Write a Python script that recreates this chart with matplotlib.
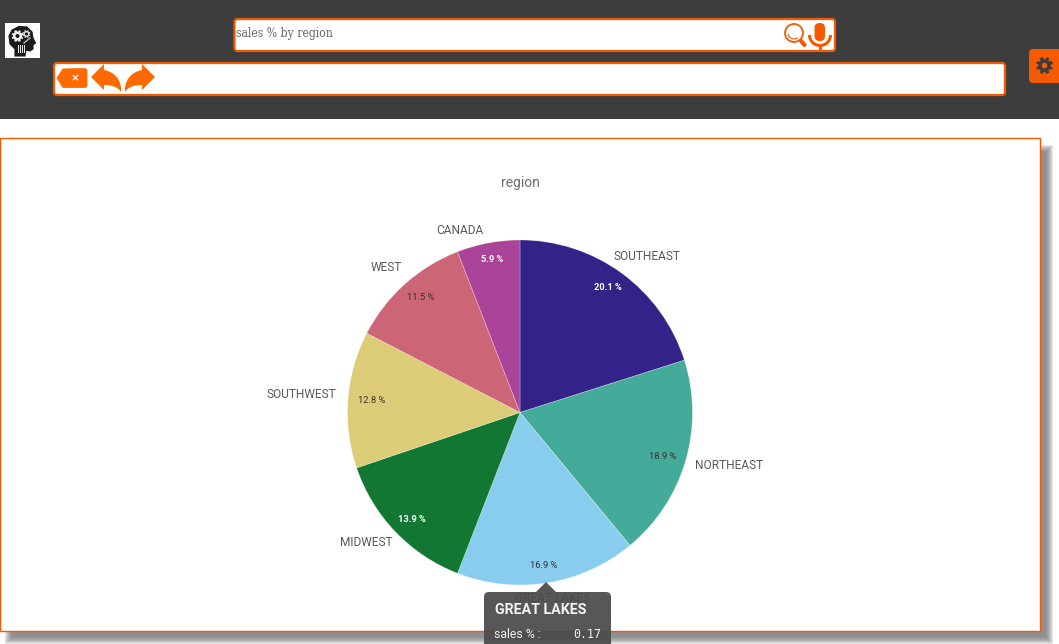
import numpy as np
import matplotlib
matplotlib.use("Agg")
import matplotlib.pyplot as plt
from matplotlib.patches import Rectangle, FancyBboxPatch, Circle, Polygon, PathPatch, Arc
from matplotlib.path import Path

regions = ["SOUTHEAST", "NORTHEAST", "GREAT LAKES", "MIDWEST", "SOUTHWEST", "WEST", "CANADA"]
sales_pct = [20.1, 18.9, 16.9, 13.9, 12.8, 11.5, 5.9]
slice_colors = ["#332288", "#44AA99", "#88CCEE", "#117733", "#DDCC77", "#CC6677", "#AA4499"]
pct_colors = ["white", "#333333", "#333333", "white", "#333333", "#333333", "white"]
label_xy = [(647, 256), (729, 465), (553, 598), (366, 542), (301, 394), (386, 267), (460, 230)]

ORANGE = "#F65A00"
ARROW = "#FF6A00"
BAR = "#3D3D3D"
PIE_X = 520

fig = plt.figure(figsize=(10.59, 6.44), dpi=100, facecolor="white")
ax = fig.add_axes([0, 0, 1, 1])
# one data unit is one pixel, y grows downwards
ax.set_xlim(0, 1059)
ax.set_ylim(644, 0)
ax.axis("off")


def rbox(x0, y0, x1, y1, r=3, **kw):
    p = FancyBboxPatch((x0 + r, y0 + r), x1 - x0 - 2 * r, y1 - y0 - 2 * r,
                       boxstyle=f"round,pad={r},rounding_size={r}", **kw)
    ax.add_patch(p)
    return p


def gear(cx, cy, r_out, r_in, r_hole, color, hole):
    ang = np.linspace(0, 2 * np.pi, 97)[:-1] + np.pi / 8
    tooth = np.where(((ang - np.pi / 8) / (2 * np.pi) * 8 + 0.25) % 1 < 0.5, r_out, r_in)
    ax.add_patch(Polygon(np.c_[cx + tooth * np.cos(ang), cy + tooth * np.sin(ang)],
                         closed=True, fc=color, ec="none", zorder=5))
    ax.add_patch(Circle((cx, cy), r_hole, fc=hole, ec="none", zorder=6))


def arrow(xs):
    # curved undo/redo arrow, xs maps the left facing shape onto the page
    verts = [(91, 77), (104, 64), (104, 70), (116, 72), (122, 82), (121, 92),
             (118, 87), (112, 85), (104, 85), (104, 90), (91, 77)]
    codes = [Path.MOVETO, Path.LINETO, Path.LINETO, Path.CURVE4, Path.CURVE4, Path.CURVE4,
             Path.CURVE4, Path.CURVE4, Path.CURVE4, Path.LINETO, Path.CLOSEPOLY]
    verts = [(xs(x), y) for x, y in verts]
    ax.add_patch(PathPatch(Path(verts, codes), fc=ARROW, ec="none", zorder=5))


# header bar
ax.add_patch(Rectangle((0, 0), 1059, 119, fc=BAR, ec="none", zorder=1))

# logo
ax.add_patch(Rectangle((5, 23), 35, 35, fc="white", ec="none", zorder=2))
head = [(15, 56), (15, 49), (10, 44), (9, 36), (12, 30), (19, 26.5), (27, 27), (32, 32), (33, 38),
        (35.5, 43), (33, 45), (33, 49), (30, 51), (26, 50), (25, 56)]
ax.add_patch(Polygon(head, closed=True, fc="#1A1A1A", ec="#1A1A1A", lw=0.8, joinstyle="round", zorder=3))
gear(17.5, 36, 6, 4.6, 2, "#F0F0F0", "#1A1A1A")
gear(26.5, 34, 4, 3, 1.6, "#E0E0E0", "#1A1A1A")
ax.plot([24, 30], [43, 38], color="#BBBBBB", lw=1, zorder=6)
for bx in (18, 20, 22, 24):
    ax.add_patch(Rectangle((bx, 45), 1, 8, fc="#E6E6E6", ec="none", zorder=4))

# search box
rbox(234.5, 19, 835, 51, fc="white", ec=ORANGE, lw=1.6, zorder=3)
ax.text(235.5, 33, "sales % by region", fontsize=8.75, color="#666666", family="DejaVu Serif",
        va="center", ha="left", zorder=5, fontstretch="condensed")
ax.add_patch(Circle((794, 33), 9, fc="none", ec=ORANGE, lw=1.3, zorder=5))
ax.add_patch(Arc((794, 33), 12, 12, theta1=50, theta2=170, ec=ORANGE, lw=0.8, zorder=5))
ax.plot([801, 804.5], [41, 45], color=ORANGE, lw=3, solid_capstyle="round", zorder=5)
rbox(814.5, 23, 825, 41, r=5, fc=ORANGE, ec="none", zorder=5)
ax.add_patch(Arc((820, 35), 21, 21, theta1=0, theta2=180, ec=ORANGE, lw=2.2, zorder=5))
ax.plot([820, 820], [45, 48], color=ORANGE, lw=2.2, zorder=5)

# selections box
rbox(54, 63, 1005, 95, fc="white", ec=ORANGE, lw=1.6, zorder=3)
ax.add_patch(Polygon([(57, 78), (63, 69), (85, 68.5), (87, 70), (87, 86), (85, 87.5), (63, 87.5)],
                     closed=True, fc=ARROW, ec=ARROW, lw=0.6, joinstyle="round", zorder=5))
ax.text(75, 78, "×", color="white", fontsize=7.5, fontweight="bold", ha="center", va="center", zorder=6)
arrow(lambda x: x)
arrow(lambda x: 246 - x)

# settings button
ax.add_patch(FancyBboxPatch((1033, 53), 40, 26, boxstyle="round,pad=4,rounding_size=4",
                            fc=ORANGE, ec="none", zorder=3, clip_on=True))
gear(1044.5, 65.5, 8.5, 6.4, 2.8, BAR, ORANGE)

# chart panel with its soft shadow
for grow in range(3, -5, -1):
    ax.add_patch(Rectangle((8 - grow, 148 - grow), 1042 + 2 * grow, 493 + 2 * grow,
                           fc="#727272", ec="none", alpha=0.17, zorder=1.5))
ax.add_patch(Rectangle((0, 138), 1040, 493, fc="white", ec=ORANGE, lw=1, zorder=2))
ax.text(PIE_X, 182.5, "region", fontsize=10, color="#6E6E6E", family="Roboto", ha="center", va="center", zorder=3)

# y axis points down here, so counterclockwise in data runs clockwise on the page
wedges, _, pct_texts = ax.pie(sales_pct, colors=slice_colors, center=(PIE_X, 412.5), radius=172.5,
                              startangle=-90, counterclock=True, frame=True,
                              autopct="%.1f %%", pctdistance=0.9,
                              wedgeprops={"edgecolor": (1, 1, 1, 0.3), "linewidth": 0.6, "zorder": 3})
ax.set_xlim(0, 1059)
ax.set_ylim(644, 0)
ax.axis("off")
for t, c in zip(pct_texts, pct_colors):
    # pull the value labels in a little at the sides of the pie
    t.set_x(PIE_X + (t.get_position()[0] - PIE_X) * 0.96)
    t.set(color=c, fontsize=6.7, family="Roboto", zorder=4,
          fontweight="bold" if c == "white" else "normal")
for name, (lx, ly) in zip(regions, label_xy):
    ax.text(lx, ly, name, fontsize=8.6, color="#595959", family="Roboto",
            ha="center", va="center", zorder=3.5)

# tooltip over the hovered slice, the slice label shows faintly through it
ax.add_patch(Polygon([(536, 592), (546, 582), (556, 592)], closed=True, fc="#4A4A4A", ec="none",
                     alpha=0.93, zorder=8))
rbox(484, 592, 611, 660, r=5, fc="#4A4A4A", ec="none", alpha=0.93, zorder=8)
ax.text(495, 610, "GREAT LAKES", fontsize=10.3, fontweight="bold", color="#F2F2F2", family="Roboto",
        ha="left", va="center", zorder=9)
ax.text(494, 635, "sales % :", fontsize=8.8, color="#F2F2F2", family="Roboto", ha="left", va="center", zorder=9)
ax.text(601, 635, f"{sales_pct[2] / 100:.2f}", fontsize=8.4, color="#F2F2F2", family="DejaVu Sans Mono",
        ha="right", va="center", zorder=9)

fig.savefig("out.png", dpi=100)
